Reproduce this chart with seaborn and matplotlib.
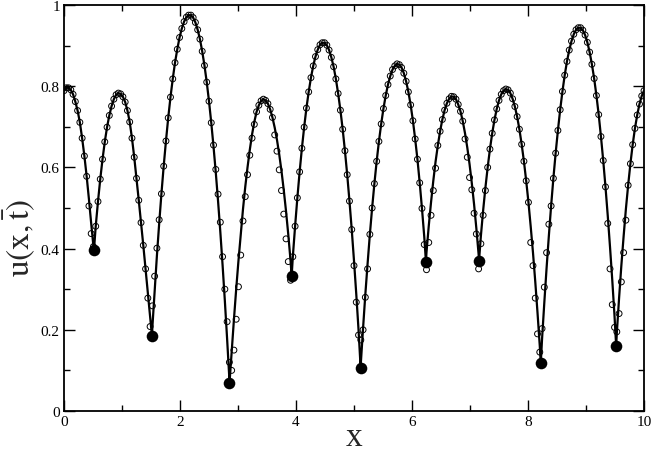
import numpy as np
import pandas as pd
import matplotlib
matplotlib.use('Agg')
import matplotlib.pyplot as plt
import seaborn as sns

# grid of 256 cells on [0, 10]
n_cells = 256

# minima (filled dots)
x_min = [0.517, 1.517, 2.853, 3.925, 5.115, 6.24, 7.155, 8.22, 9.52]
u_min = [0.397, 0.184, 0.068, 0.332, 0.105, 0.368, 0.369, 0.117, 0.160]

# solid curve, read at the grid points
u_line = [
    0.789, 0.796, 0.796, 0.791, 0.780, 0.762, 0.740, 0.711, 0.672, 0.628,
    0.578, 0.522, 0.462, 0.405, 0.455, 0.516, 0.571, 0.620, 0.663, 0.699,
    0.728, 0.751, 0.768, 0.779, 0.783, 0.781, 0.774, 0.761, 0.740, 0.712,
    0.672, 0.625, 0.573, 0.519, 0.464, 0.408, 0.350, 0.290, 0.232, 0.206,
    0.296, 0.382, 0.461, 0.535, 0.603, 0.665, 0.722, 0.773, 0.818, 0.858,
    0.891, 0.920, 0.942, 0.959, 0.970, 0.975, 0.975, 0.969, 0.957, 0.939,
    0.916, 0.886, 0.851, 0.810, 0.763, 0.710, 0.651, 0.587, 0.517, 0.441,
    0.359, 0.271, 0.177, 0.078, 0.145, 0.225, 0.300, 0.370, 0.435, 0.497,
    0.552, 0.600, 0.643, 0.681, 0.712, 0.737, 0.753, 0.764, 0.768, 0.765,
    0.757, 0.743, 0.723, 0.698, 0.668, 0.632, 0.591, 0.544, 0.492, 0.434,
    0.370, 0.380, 0.455, 0.525, 0.589, 0.647, 0.699, 0.746, 0.786, 0.821,
    0.850, 0.873, 0.890, 0.902, 0.907, 0.907, 0.901, 0.889, 0.871, 0.848,
    0.818, 0.782, 0.741, 0.694, 0.641, 0.582, 0.517, 0.447, 0.370, 0.288,
    0.200, 0.116, 0.204, 0.287, 0.363, 0.435, 0.500, 0.560, 0.615, 0.664,
    0.707, 0.745, 0.777, 0.804, 0.825, 0.841, 0.850, 0.855, 0.853, 0.846,
    0.832, 0.812, 0.786, 0.754, 0.715, 0.670, 0.620, 0.562, 0.499, 0.430,
    0.391, 0.456, 0.514, 0.567, 0.614, 0.654, 0.689, 0.718, 0.741, 0.758,
    0.769, 0.775, 0.774, 0.768, 0.755, 0.738, 0.714, 0.684, 0.649, 0.608,
    0.561, 0.509, 0.450, 0.386, 0.431, 0.494, 0.550, 0.600, 0.645, 0.684,
    0.717, 0.744, 0.765, 0.780, 0.789, 0.793, 0.791, 0.783, 0.769, 0.750,
    0.725, 0.694, 0.657, 0.615, 0.567, 0.514, 0.454, 0.390, 0.319, 0.242,
    0.160, 0.177, 0.267, 0.352, 0.431, 0.505, 0.573, 0.635, 0.691, 0.742,
    0.787, 0.827, 0.861, 0.889, 0.911, 0.928, 0.939, 0.944, 0.944, 0.938,
    0.926, 0.908, 0.884, 0.854, 0.819, 0.777, 0.730, 0.676, 0.617, 0.552,
    0.481, 0.404, 0.322, 0.233, 0.192, 0.278, 0.358, 0.430, 0.497, 0.556,
    0.609, 0.656, 0.696, 0.729, 0.756, 0.776, 0.789,
]

# open circles sit on the curve except near the minima
fix_idx = [11, 12, 13,
           37, 38, 39, 40, 41, 42,
           66, 67, 68, 69, 70, 71, 72, 73, 74, 75, 76, 77, 78, 79, 80, 81, 82, 83, 84,
           93, 94, 95, 96, 97, 98, 99, 100,
           128, 129, 130, 131, 132, 133, 134,
           159, 160, 161, 162, 163, 164,
           177, 178, 179, 180, 181, 182, 183, 184, 185, 186,
           206, 207, 208, 209, 210, 211, 212, 213, 214,
           240, 241, 242, 243, 244, 245, 246, 247, 248]
fix_val = [0.505, 0.437, 0.405,
           0.278, 0.208, 0.259, 0.332, 0.401, 0.471,
           0.655, 0.595, 0.534, 0.465, 0.380, 0.300, 0.220, 0.120, 0.100, 0.150, 0.226,
           0.306, 0.384, 0.468, 0.528, 0.582, 0.630, 0.672, 0.706,
           0.680, 0.640, 0.594, 0.543, 0.485, 0.424, 0.368, 0.322,
           0.358, 0.268, 0.187, 0.175, 0.200, 0.280, 0.350,
           0.410, 0.348, 0.415, 0.482, 0.543, 0.598,
           0.670, 0.625, 0.575, 0.545, 0.487, 0.436, 0.350, 0.412, 0.482, 0.543,
           0.415, 0.358, 0.278, 0.190, 0.145, 0.203, 0.305, 0.390, 0.460,
           0.462, 0.350, 0.262, 0.206, 0.195, 0.240, 0.318, 0.390, 0.470]

x_ticks = [0, 2, 4, 6, 8, 10]
x_labels = ['0', '2', '4', '6', '8', '10']
y_ticks = [0, 0.2, 0.4, 0.6, 0.8, 1]
y_labels = ['0', '0.2', '0.4', '0.6', '0.8', '1']

x = np.linspace(0, 10, n_cells + 1)
u_circ = np.array(u_line)
u_circ[fix_idx] = fix_val

line = pd.DataFrame({'x': np.concatenate([x, x_min]),
                     'u': np.concatenate([u_line, u_min])}).sort_values('x')
circ = pd.DataFrame({'x': x, 'u': u_circ})
dots = pd.DataFrame({'x': x_min, 'u': u_min})

sns.set_style('ticks')
plt.rcParams['font.family'] = ['Liberation Serif', 'DejaVu Serif']
plt.rcParams['mathtext.fontset'] = 'stix'

fig = plt.figure(figsize=(6.54, 4.52), dpi=100)
ax = fig.add_axes([64 / 654, 40 / 452, 580 / 654, 406 / 452])

sns.lineplot(data=line, x='x', y='u', sort=False, estimator=None,
             color='black', lw=1.6, ax=ax, zorder=2)
sns.scatterplot(data=circ, x='x', y='u', marker='o', s=18, color='black',
                edgecolor='black', linewidth=0.7, ax=ax, zorder=3)
ax.collections[-1].set_facecolor('none')
sns.scatterplot(data=dots, x='x', y='u', marker='o', s=70, color='black',
                edgecolor='black', linewidth=0, ax=ax, zorder=4)

ax.set_xlim(0, 10)
ax.set_ylim(0, 1)
ax.set_xticks(x_ticks, x_labels)
ax.set_xticks(np.arange(1, 10, 2), minor=True)
ax.set_yticks(y_ticks, y_labels)
ax.set_yticks(np.arange(0.1, 1, 0.2), minor=True)
ax.tick_params(which='both', direction='in', top=True, right=True,
               width=1.0, colors='black', labelsize=11, pad=3)
ax.tick_params(which='major', length=8)
ax.tick_params(which='minor', length=4)
for s in ax.spines.values():
    s.set_linewidth(1.3)
    s.set_color('black')

ax.set_xlabel('x', fontsize=24, labelpad=-5)
ax.set_ylabel(r'$\mathrm{u(x,}\bar{\mathrm{t}}\mathrm{)}$', fontsize=24)
ax.yaxis.set_label_coords(-0.047, 0.43)

fig.savefig('out.png', dpi=100)
